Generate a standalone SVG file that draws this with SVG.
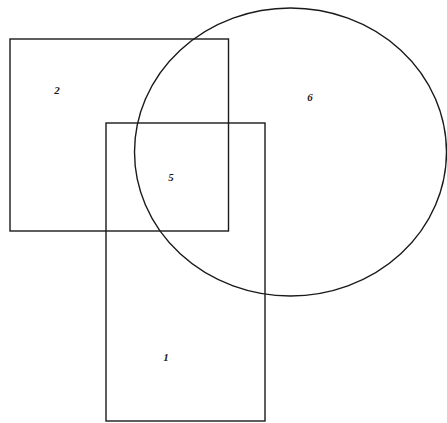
<svg xmlns="http://www.w3.org/2000/svg" width="447" height="423" viewBox="0 0 447 423">
<style>
.s{fill:none;stroke:#1a1a1a;stroke-width:1.4}
.t{font-family:"Liberation Serif",serif;font-style:italic;font-weight:bold;font-size:11px;fill:#1a1a1a;text-anchor:middle}
</style>
<rect width="447" height="423" fill="#fff"/>
<g id="A"><rect class="s" x="10" y="39" width="218.5" height="192"/><text class="t" x="57" y="94">2</text></g>
<g id="C"><ellipse class="s" cx="290.5" cy="152" rx="156" ry="144"/><text class="t" x="310" y="101">6</text></g>
<g id="B"><rect class="s" x="106" y="123" width="159" height="298"/><text class="t" x="171" y="181">5</text><text class="t" x="166" y="361">1</text></g>
<g id="connectors"/>
</svg>
